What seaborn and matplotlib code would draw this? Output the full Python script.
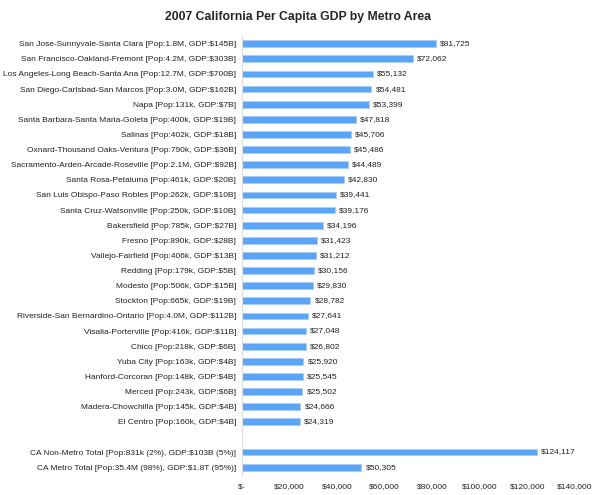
import matplotlib
matplotlib.use("Agg")
import matplotlib.pyplot as plt
import matplotlib.ticker as mticker
import pandas as pd
import seaborn as sns

# ---------------------------------------------
# Data
# ---------------------------------------------

metros = [
    "San Jose-Sunnyvale-Santa Clara [Pop:1.8M, GDP:$145B]",
    "San Francisco-Oakland-Fremont [Pop:4.2M, GDP:$303B]",
    "Los Angeles-Long Beach-Santa Ana [Pop:12.7M, GDP:$700B]",
    "San Diego-Carlsbad-San Marcos [Pop:3.0M, GDP:$162B]",
    "Napa [Pop:131k, GDP:$7B]",
    "Santa Barbara-Santa Maria-Goleta [Pop:400k, GDP:$19B]",
    "Salinas [Pop:402k, GDP:$18B]",
    "Oxnard-Thousand Oaks-Ventura [Pop:790k, GDP:$36B]",
    "Sacramento-Arden-Arcade-Roseville [Pop:2.1M, GDP:$92B]",
    "Santa Rosa-Petaluma [Pop:461k, GDP:$20B]",
    "San Luis Obispo-Paso Robles [Pop:262k, GDP:$10B]",
    "Santa Cruz-Watsonville [Pop:250k, GDP:$10B]",
    "Bakersfield [Pop:785k, GDP:$27B]",
    "Fresno [Pop:890k, GDP:$28B]",
    "Vallejo-Fairfield [Pop:406k, GDP:$13B]",
    "Redding [Pop:179k, GDP:$5B]",
    "Modesto [Pop:506k, GDP:$15B]",
    "Stockton [Pop:665k, GDP:$19B]",
    "Riverside-San Bernardino-Ontario [Pop:4.0M, GDP:$112B]",
    "Visalia-Porterville [Pop:416k, GDP:$11B]",
    "Chico [Pop:218k, GDP:$6B]",
    "Yuba City [Pop:163k, GDP:$4B]",
    "Hanford-Corcoran [Pop:148k, GDP:$4B]",
    "Merced [Pop:243k, GDP:$6B]",
    "Madera-Chowchilla [Pop:145k, GDP:$4B]",
    "El Centro [Pop:160k, GDP:$4B]",
]

metro_gdp = [
    81725, 72062, 55132, 54481, 53399, 47818, 45706, 45486, 44489,
    42830, 39441, 39176, 34196, 31423, 31212, 30156, 29830, 28782,
    27641, 27048, 26802, 25920, 25545, 25502, 24666, 24319,
]

totals = [
    "CA Non-Metro Total [Pop:831k (2%), GDP:$103B (5%)]",
    "CA Metro Total [Pop:35.4M (98%), GDP:$1.8T (95%)]",
]

totals_gdp = [124117, 50305]

x_ticks = [0, 20000, 40000, 60000, 80000, 100000, 120000, 140000]

# blank row separates the metros from the totals
gap = " "
order = metros + [gap] + totals

df = pd.DataFrame({
    "area": metros + totals,
    "gdp": metro_gdp + totals_gdp,
})

# ---------------------------------------------
# Plot
# ---------------------------------------------

sns.set_style("white")
plt.rcParams["font.family"] = ["Liberation Sans", "DejaVu Sans"]

fig = plt.figure(figsize=(6, 4.95), dpi=100)
ax = fig.add_axes([0.403, 0.041, 0.555, 0.886])

sns.barplot(
    data=df,
    x="gdp",
    y="area",
    order=order,
    orient="h",
    color="#5aa5f7",
    saturation=1,
    width=0.45,
    edgecolor="#a9cdf5",
    linewidth=0.6,
    ax=ax,
)

ax.set_xlim(0, 140000)
ax.set_ylim(len(order) - 0.5, -0.5)
ax.set_xticks(x_ticks)
ax.xaxis.set_major_formatter(
    mticker.FuncFormatter(lambda v, _: "$-" if v == 0 else f"${v:,.0f}")
)

ax.set_xlabel("")
ax.set_ylabel("")

ax.tick_params(axis="x", length=0, pad=6, labelsize=6.05, labelcolor="#222222")
ax.tick_params(axis="y", length=0, pad=4, labelsize=6.05, labelcolor="#222222")

for side in ["top", "right", "bottom"]:
    ax.spines[side].set_visible(False)
ax.spines["left"].set_color("#dddddd")
ax.spines["left"].set_linewidth(0.8)

for container in ax.containers:
    ax.bar_label(
        container,
        labels=[f"${v:,.0f}" for v in container.datavalues],
        padding=3,
        fontsize=6.05,
        color="#222222",
    )

fig.text(
    0.497, 0.966,
    "2007 California Per Capita GDP by Metro Area",
    ha="center", va="center",
    fontsize=8.8, fontweight="bold",
)

fig.savefig("out.png", dpi=100)
plt.close(fig)
